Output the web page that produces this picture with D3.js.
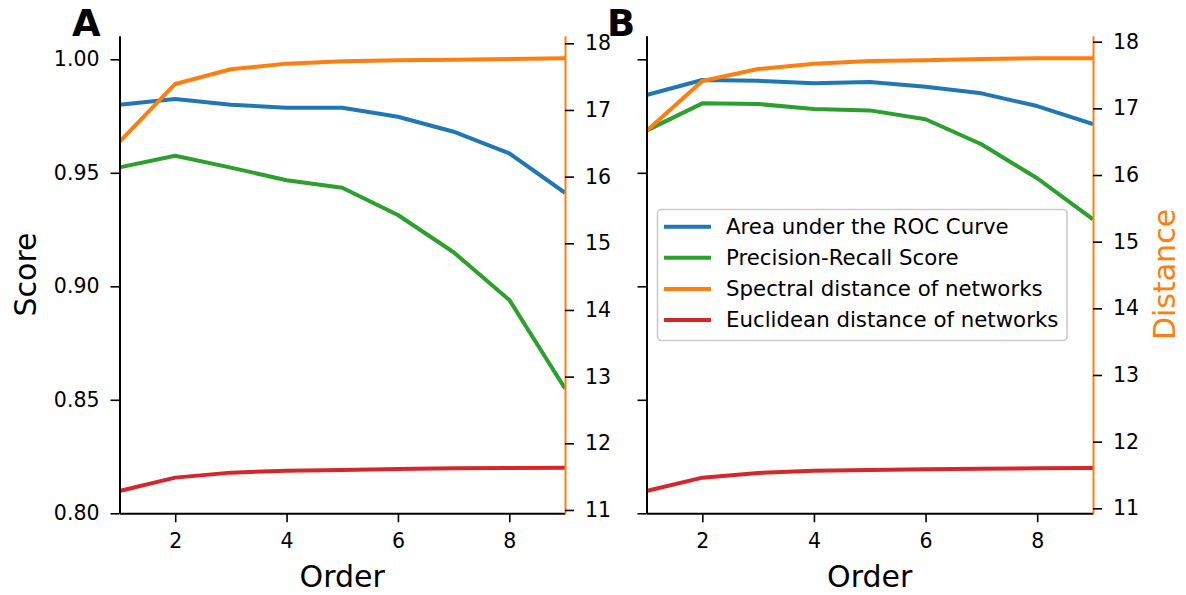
<!DOCTYPE html>
<html>
<head>
<meta charset="utf-8">
<script src="https://cdnjs.cloudflare.com/ajax/libs/d3/7.8.5/d3.min.js"></script>
<style>
  body { margin: 0; background: #fff; }
  text { font-family: 'DejaVu Sans', sans-serif; }
</style>
</head>
<body>
<div id="chart"></div>
<script>
// values
var orders = [1, 2, 3, 4, 5, 6, 7, 8, 9]

var aucA = [0.980, 0.9825, 0.980, 0.9787, 0.9787, 0.9747, 0.9681, 0.9586, 0.9412]
var prA = [0.9524, 0.9575, 0.9523, 0.9467, 0.9434, 0.9314, 0.915, 0.894, 0.855]
var spectralA = [16.52, 17.39, 17.61, 17.695, 17.73, 17.745, 17.755, 17.765, 17.775]
var euclidA = [11.285, 11.485, 11.56, 11.59, 11.60, 11.615, 11.625, 11.63, 11.635]

var aucB = [0.9843, 0.9909, 0.9905, 0.9894, 0.990, 0.9879, 0.985, 0.9794, 0.9715]
var prB = [0.9686, 0.9806, 0.9803, 0.9781, 0.9775, 0.9736, 0.9626, 0.9476, 0.9295]
var spectralB = [16.66, 17.41, 17.59, 17.67, 17.71, 17.72, 17.74, 17.75, 17.75]
var euclidB = [11.26, 11.46, 11.53, 11.565, 11.575, 11.585, 11.595, 11.60, 11.605]

var scoreTicks = [0.80, 0.85, 0.90, 0.95, 1.00]
var distTicks = [11, 12, 13, 14, 15, 16, 17, 18]
var orderTicks = [2, 4, 6, 8]

var seriesNames = [
  'Area under the ROC Curve',
  'Precision-Recall Score',
  'Spectral distance of networks',
  'Euclidean distance of networks'
]
var colors = ['#1f77b4', '#2ca02c', '#ff7f0e', '#d62728']
var orange = '#ff7f0e'

var W = 1186, H = 595
var yTop = 35.7, yBot = 513.3
var tickFont = '20.5px'
var lineW = 4

var svg = d3.select('#chart').append('svg')
  .attr('width', W)
  .attr('height', H)

var panels = [
  { name: 'A', left: 119.5, right: 565, labelX: 72, showScore: true,
    auc: aucA, pr: prA, spectral: spectralA, euclid: euclidA, distDomain: [10.95, 18.114] },
  { name: 'B', left: 646.5, right: 1093, labelX: 607, showScore: false,
    auc: aucB, pr: prB, spectral: spectralB, euclid: euclidB, distDomain: [10.925, 18.09] }
]

function styleAxis(g, domainColor) {
  g.select('.domain').attr('stroke', domainColor).attr('stroke-width', 2)
  g.selectAll('.tick line').attr('stroke', '#000').attr('stroke-width', 1.6)
  g.selectAll('.tick text').attr('fill', '#000').style('font-size', tickFont)
    .style('font-family', "'DejaVu Sans', sans-serif")
}

panels.forEach(function (p, i) {
  var x = d3.scaleLinear().domain([1, 9]).range([p.left, p.right])
  var yScore = d3.scaleLinear().domain([0.80, 1.0104]).range([yBot, yTop])
  var yDist = d3.scaleLinear().domain(p.distDomain).range([yBot, yTop])

  var clipId = 'clip' + i
  svg.append('clipPath').attr('id', clipId)
    .append('rect')
    .attr('x', p.left).attr('y', yTop)
    .attr('width', p.right - p.left).attr('height', yBot - yTop)

  var lineScore = d3.line()
    .x(function (d, j) { return x(orders[j]) })
    .y(function (d) { return yScore(d) })
  var lineDist = d3.line()
    .x(function (d, j) { return x(orders[j]) })
    .y(function (d) { return yDist(d) })

  // left axes lines first, twin axes on top
  var plotted = [
    { data: p.auc, line: lineScore, color: colors[0] },
    { data: p.pr, line: lineScore, color: colors[1] },
    { data: p.spectral, line: lineDist, color: colors[2] },
    { data: p.euclid, line: lineDist, color: colors[3] }
  ]
  var lines = svg.append('g').attr('clip-path', 'url(#' + clipId + ')')
  plotted.forEach(function (s) {
    lines.append('path')
      .attr('d', s.line(s.data))
      .attr('fill', 'none')
      .attr('stroke', s.color)
      .attr('stroke-width', lineW)
      .attr('stroke-linejoin', 'round')
  })

  var gx = svg.append('g')
    .attr('transform', 'translate(0,' + yBot + ')')
    .call(d3.axisBottom(x).tickValues(orderTicks).tickSize(9).tickSizeOuter(0).tickPadding(11))
  styleAxis(gx, '#000')

  var gl = svg.append('g')
    .attr('transform', 'translate(' + p.left + ',0)')
    .call(d3.axisLeft(yScore).tickValues(scoreTicks).tickSize(9).tickSizeOuter(0).tickPadding(11)
      .tickFormat(p.showScore ? d3.format('.2f') : function () { return '' }))
  styleAxis(gl, '#000')

  var gr = svg.append('g')
    .attr('transform', 'translate(' + p.right + ',0)')
    .call(d3.axisRight(yDist).tickValues(distTicks).tickSize(9).tickSizeOuter(0).tickPadding(11)
      .tickFormat(d3.format('d')))
  styleAxis(gr, orange)

  svg.append('text')
    .attr('x', (p.left + p.right) / 2)
    .attr('y', 587)
    .attr('text-anchor', 'middle')
    .style('font-size', '30px')
    .text('Order')

  svg.append('text')
    .attr('x', p.labelX)
    .attr('y', 35.5)
    .style('font-size', '37px')
    .style('font-weight', 'bold')
    .text(p.name)
})

svg.append('text')
  .attr('transform', 'translate(36,' + (yTop + yBot) / 2 + ') rotate(-90)')
  .attr('text-anchor', 'middle')
  .style('font-size', '30px')
  .text('Score')

svg.append('text')
  .attr('transform', 'translate(1175,' + (yTop + yBot) / 2 + ') rotate(-90)')
  .attr('text-anchor', 'middle')
  .attr('fill', orange)
  .style('font-size', '30px')
  .text('Distance')

// legend sits in panel B
var legend = svg.append('g')
legend.append('rect')
  .attr('x', 657.5).attr('y', 209.5)
  .attr('width', 409.5).attr('height', 131)
  .attr('rx', 4)
  .attr('fill', '#fff').attr('fill-opacity', 0.8)
  .attr('stroke', '#cccccc').attr('stroke-width', 1.6)

seriesNames.forEach(function (name, k) {
  var ly = 226.7 + k * 31.1
  legend.append('line')
    .attr('x1', 664).attr('x2', 711)
    .attr('y1', ly).attr('y2', ly)
    .attr('stroke', colors[k])
    .attr('stroke-width', lineW)
  legend.append('text')
    .attr('x', 726).attr('y', ly)
    .attr('dy', '0.35em')
    .style('font-size', '21.3px')
    .text(name)
})
</script>
</body>
</html>
